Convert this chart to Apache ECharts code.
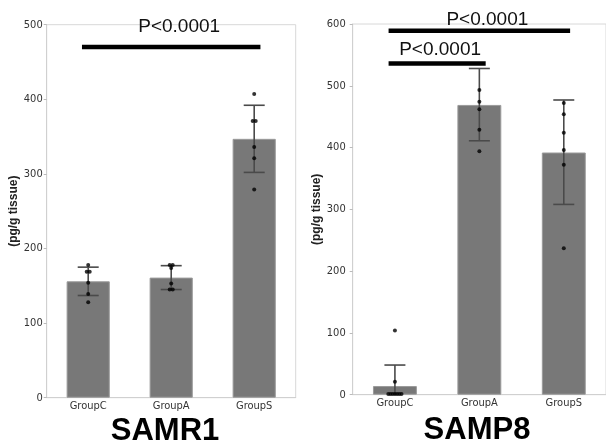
<!DOCTYPE html>
<html>
<head>
<meta charset="utf-8">
<script src="https://cdn.jsdelivr.net/npm/echarts@6/dist/echarts.min.js"></script>
<style>html,body{margin:0;padding:0;background:#fff}#c{width:606px;height:446px}</style>
</head>
<body>
<div id="c"></div>
<script>
// ---- data ----
const categories = ['GroupC', 'GroupA', 'GroupS'];
const yTicksSamr1 = [0, 100, 200, 300, 400, 500];
const yTicksSamp8 = [0, 100, 200, 300, 400, 500, 600];

const samr1Mean = [156, 161, 347];
const samr1Low  = [137, 145, 302];
const samr1High = [175, 177, 392];
const samr1Points = [
  [178, 169, 169, 154, 139, 128],
  [178, 178, 174, 153, 145, 145],
  [407, 371, 371, 336, 321, 279]
];
const samr1SigFrom = [0];
const samr1SigTo = [2];
const samr1SigY = [470];
const samr1SigLabel = ['P<0.0001'];

const samp8Mean = [14, 469, 392];
const samp8Low  = [-20, 411, 308];
const samp8High = [48, 528, 477];
const samp8Points = [
  [104, 21, 1, 1, 1, 1, 1, 1, 1],
  [493, 474, 462, 429, 394],
  [472, 454, 424, 396, 372, 237]
];
const samp8SigFrom = [0, 0];
const samp8SigTo = [2, 1];
const samp8SigY = [589, 536];
const samp8SigLabel = ['P<0.0001', 'P<0.0001'];

const yName = '(pg/g tissue)';
const panelTitles = ['SAMR1', 'SAMP8'];

// ---- styling / layout ----
const narrow = '"Liberation Sans Narrow", "DejaVu Sans Condensed", "Liberation Sans", Arial, sans-serif';
const sans = '"Liberation Sans", Arial, sans-serif';
const barColor = '#787878';
const errColor = '#4a4a4a';
const sigTextOffset = [[[8, 20]], [[8, 11.5], [3, 14]]];

function pointData(groups) {
  const out = [];
  groups.forEach((vals, ci) => {
    const counts = {};
    vals.forEach(v => { counts[v] = (counts[v] || 0) + 1; });
    const seen = {};
    vals.forEach(v => {
      const n = counts[v];
      const k = seen[v] = (seen[v] === undefined ? 0 : seen[v] + 1);
      const spacing = n > 3 ? 2.2 : 3;
      out.push({ value: [ci, v], symbolOffset: [(k - (n - 1) / 2) * spacing, 0] });
    });
  });
  return out;
}

function errSeries(idx, low, high) {
  return {
    type: 'custom', xAxisIndex: idx, yAxisIndex: idx, z: 3,
    data: categories.map((c, i) => [i, low[i], high[i]]),
    renderItem: function (params, api) {
      const ci = api.value(0);
      const lo = Math.max(0, api.value(1));
      const hiP = api.coord([ci, api.value(2)]);
      const loP = api.coord([ci, lo]);
      const hw = 10.5;
      const style = { stroke: errColor, lineWidth: 1.6 };
      const ch = [
        { type: 'line', shape: { x1: hiP[0], y1: hiP[1], x2: loP[0], y2: loP[1] }, style: style },
        { type: 'line', shape: { x1: hiP[0] - hw, y1: hiP[1], x2: hiP[0] + hw, y2: hiP[1] }, style: style }
      ];
      if (api.value(1) > 0) {
        ch.push({ type: 'line', shape: { x1: loP[0] - hw, y1: loP[1], x2: loP[0] + hw, y2: loP[1] }, style: style });
      }
      return { type: 'group', children: ch };
    }
  };
}

function sigSeries(idx, from, to, ys, labels) {
  return {
    type: 'custom', xAxisIndex: idx, yAxisIndex: idx, z: 5,
    data: from.map((f, i) => [f, to[i], ys[i], i]),
    renderItem: function (params, api) {
      const bw = api.size([1, 0])[0];
      const a = api.coord([api.value(0), api.value(2)]);
      const b = api.coord([api.value(1), api.value(2)]);
      const x1 = a[0] - 0.075 * bw, x2 = b[0] + 0.075 * bw;
      const i = api.value(3);
      const off = sigTextOffset[idx][i];
      return {
        type: 'group', children: [
          { type: 'line', shape: { x1: x1, y1: a[1], x2: x2, y2: a[1] }, style: { stroke: '#000', lineWidth: 4.5 } },
          { type: 'text', x: (x1 + x2) / 2 + off[0], y: a[1] - off[1],
            style: { text: labels[i], font: '19px ' + sans, fill: '#111', align: 'center', verticalAlign: 'middle' } }
        ]
      };
    }
  };
}

const grids = [
  { left: 46.7, top: 24.7, width: 249, height: 373 },
  { left: 352.7, top: 24, width: 256.5, height: 370.7 }
];

function yAxisCfg(idx, ticks, nameGap, labelMargin) {
  return {
    type: 'value', gridIndex: idx, min: ticks[0], max: ticks[ticks.length - 1], interval: ticks[1] - ticks[0],
    name: yName, nameLocation: 'middle', nameGap: nameGap,
    nameTextStyle: { fontFamily: sans, fontSize: 12, fontWeight: 'bold', color: '#222' },
    axisLine: { show: true, lineStyle: { color: '#d0d0d0' } },
    axisTick: { show: true, length: 3, lineStyle: { color: '#bbb' } },
    axisLabel: { fontFamily: narrow, fontSize: 11, color: '#333', margin: labelMargin },
    splitLine: { show: false }
  };
}
function xAxisCfg(idx) {
  return {
    type: 'category', gridIndex: idx, data: categories,
    axisLine: { show: true, lineStyle: { color: '#d0d0d0' } },
    axisTick: { show: false },
    axisLabel: { fontFamily: narrow, fontSize: 11, color: '#333', margin: 3 }
  };
}

const option = {
  animation: false,
  backgroundColor: '#fff',
  grid: grids.map(g => Object.assign({ show: true, borderColor: '#d8d8d8', borderWidth: 1, backgroundColor: 'transparent' }, g)),
  xAxis: [xAxisCfg(0), xAxisCfg(1)],
  yAxis: [yAxisCfg(0, yTicksSamr1, 27, 4), yAxisCfg(1, yTicksSamp8, 21, 7)],
  title: [
    { text: panelTitles[0], left: 165, top: 416, textAlign: 'center', padding: 0,
      textStyle: { fontFamily: sans, fontSize: 31, fontWeight: 'bold', color: '#000' } },
    { text: panelTitles[1], left: 477, top: 415, textAlign: 'center', padding: 0,
      textStyle: { fontFamily: sans, fontSize: 31, fontWeight: 'bold', color: '#000' } }
  ],
  series: [
    { type: 'bar', xAxisIndex: 0, yAxisIndex: 0, data: samr1Mean, barWidth: '52%',
      itemStyle: { color: barColor, borderColor: '#9a9a9a', borderWidth: 1 } },
    { type: 'bar', xAxisIndex: 1, yAxisIndex: 1, data: samp8Mean, barWidth: '52%',
      itemStyle: { color: barColor, borderColor: '#9a9a9a', borderWidth: 1 } },
    errSeries(0, samr1Low, samr1High),
    errSeries(1, samp8Low, samp8High),
    { type: 'scatter', xAxisIndex: 0, yAxisIndex: 0, z: 4, symbolSize: 4, data: pointData(samr1Points),
      itemStyle: { color: '#000' } },
    { type: 'scatter', xAxisIndex: 1, yAxisIndex: 1, z: 4, symbolSize: 4, data: pointData(samp8Points),
      itemStyle: { color: '#000' } },
    sigSeries(0, samr1SigFrom, samr1SigTo, samr1SigY, samr1SigLabel),
    sigSeries(1, samp8SigFrom, samp8SigTo, samp8SigY, samp8SigLabel)
  ]
};
const chart = echarts.init(document.getElementById('c'), null, { renderer: 'canvas' });
chart.setOption(option);
</script>
</body>
</html>
